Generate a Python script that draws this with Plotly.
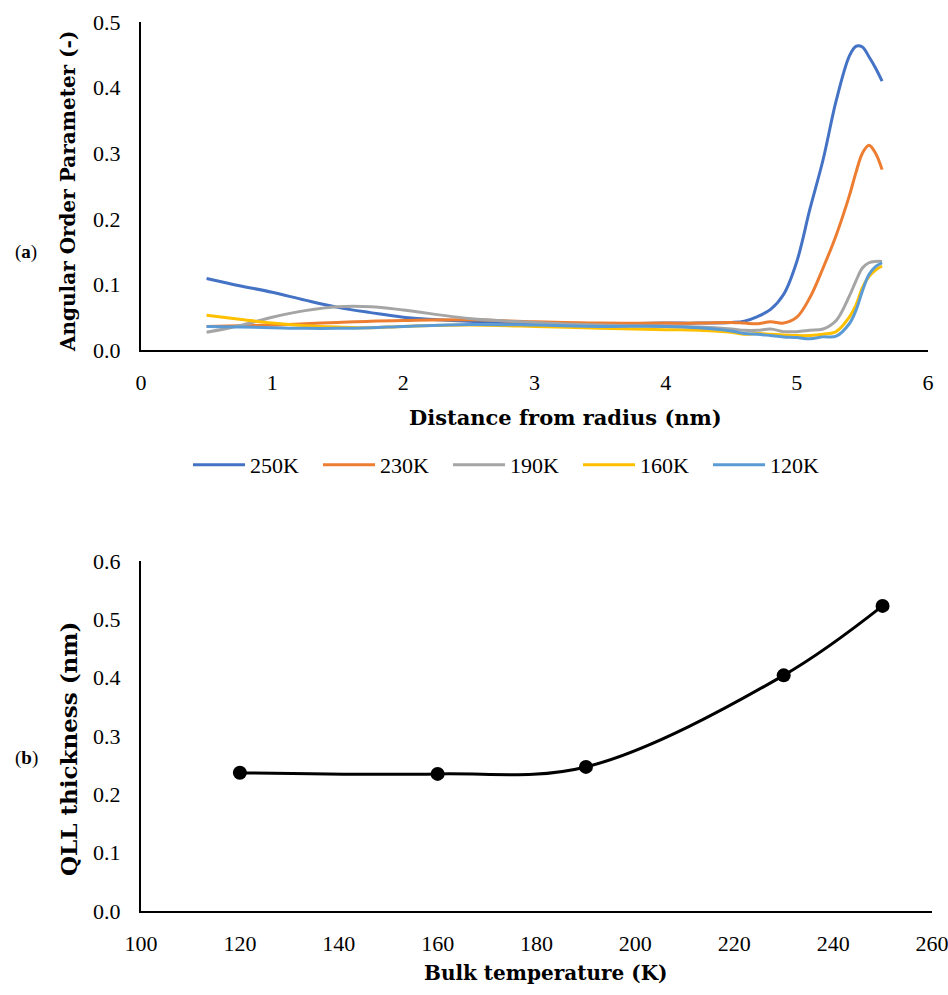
import plotly.graph_objects as go

# ---- Top chart data (a) ----
distance = [0.5, 0.75, 1.0, 1.25, 1.5, 1.75, 2.0, 2.5, 3.0, 3.5, 4.0, 4.25, 4.5, 4.6, 4.7,
            4.8, 4.9, 5.0, 5.1, 5.2, 5.3, 5.4, 5.45, 5.5, 5.55, 5.6, 5.65]
s250 = [0.109, 0.098, 0.088, 0.076, 0.065, 0.057, 0.050, 0.044, 0.041, 0.040, 0.041, 0.041, 0.042, 0.044, 0.051,
        0.062, 0.085, 0.135, 0.215, 0.290, 0.380, 0.448, 0.463, 0.462, 0.447, 0.430, 0.410]
s230 = [0.036, 0.037, 0.038, 0.040, 0.042, 0.044, 0.045, 0.046, 0.043, 0.041, 0.041, 0.041, 0.042, 0.041, 0.040,
        0.043, 0.041, 0.050, 0.080, 0.125, 0.175, 0.235, 0.270, 0.300, 0.312, 0.300, 0.275]
s190 = [0.027, 0.037, 0.050, 0.060, 0.066, 0.066, 0.061, 0.048, 0.042, 0.038, 0.036, 0.035, 0.032, 0.030, 0.030,
        0.032, 0.028, 0.028, 0.030, 0.032, 0.045, 0.082, 0.105, 0.125, 0.133, 0.135, 0.135]
s160 = [0.053, 0.047, 0.041, 0.037, 0.035, 0.034, 0.036, 0.038, 0.036, 0.033, 0.031, 0.030, 0.027, 0.024, 0.025,
        0.024, 0.023, 0.022, 0.022, 0.024, 0.028, 0.050, 0.068, 0.095, 0.112, 0.122, 0.128]
s120 = [0.036, 0.035, 0.034, 0.033, 0.033, 0.034, 0.036, 0.039, 0.038, 0.036, 0.036, 0.034, 0.029, 0.025, 0.024,
        0.022, 0.020, 0.019, 0.017, 0.020, 0.021, 0.040, 0.060, 0.090, 0.115, 0.127, 0.133]
series_names = ["250K", "230K", "190K", "160K", "120K"]
series_colors = ["#4472C4", "#ED7D31", "#A5A5A5", "#FFC000", "#5B9BD5"]
series_values = [s250, s230, s190, s160, s120]

# ---- Bottom chart data (b) ----
bulk_temp = [120, 160, 190, 230, 250]
qll_thickness = [0.237, 0.235, 0.247, 0.404, 0.523]

FONT = "Liberation Serif, Times New Roman, serif"
TITLE_FONT = "DejaVu Serif, serif"
W, H = 948, 995

fig = go.Figure()
for name, col, vals in zip(series_names, series_colors, series_values):
    fig.add_trace(go.Scatter(x=distance, y=vals, name=name, mode="lines",
                             line=dict(color=col, width=3, shape="spline", smoothing=1.0),
                             xaxis="x", yaxis="y"))

fig.add_trace(go.Scatter(x=bulk_temp, y=qll_thickness, mode="lines+markers", showlegend=False,
                         line=dict(color="black", width=3, shape="spline", smoothing=1.0),
                         marker=dict(color="black", size=14),
                         xaxis="x2", yaxis="y2"))

axis_common = dict(showgrid=False, zeroline=False, showline=True, linecolor="black", linewidth=2,
                   ticks="", tickfont=dict(family=FONT, size=22, color="black"), automargin=False,
                   ticklabeloverflow="allow")

def ann(text, x, y, size, angle=0, family=TITLE_FONT):
    return dict(text=text, x=x / W, y=1 - y / H, xref="paper", yref="paper", xanchor="center",
                yanchor="middle", textangle=angle, showarrow=False,
                font=dict(family=family, size=size, color="black"))

fig.update_layout(
    width=W, height=H,
    margin=dict(l=0, r=0, t=0, b=0),
    paper_bgcolor="white", plot_bgcolor="white",
    font=dict(family=FONT, color="black"),
    xaxis=dict(domain=[141 / W, 928 / W], range=[0, 6], dtick=1, anchor="y",
               ticklabelstandoff=12, **axis_common),
    yaxis=dict(domain=[1 - 350 / H, 1 - 22 / H], range=[0, 0.5], dtick=0.1, tickformat=".1f",
               anchor="x", ticklabelstandoff=14, **axis_common),
    xaxis2=dict(domain=[141 / W, 932 / W], range=[100, 260], dtick=20, anchor="y2",
                ticklabelstandoff=12, **axis_common),
    yaxis2=dict(domain=[1 - 911 / H, 1 - 561 / H], range=[0, 0.6], dtick=0.1, tickformat=".1f",
                anchor="x2", ticklabelstandoff=14, **axis_common),
    legend=dict(orientation="h", x=188 / W, y=1 - 465 / H, xanchor="left", yanchor="middle",
                font=dict(family=FONT, size=22, color="black"), itemwidth=52,
                entrywidth=63, entrywidthmode="pixels", bgcolor="rgba(0,0,0,0)"),
    annotations=[
        ann("<b>Angular Order Parameter (-)</b>", 68, 192, 20, -90),
        ann("<b>Distance from radius (nm)</b>", 565, 417, 21),
        ann("(<b>a</b>)", 26, 252, 19, family=FONT),
        ann("<b>QLL thickness (nm)</b>", 68, 749, 23, -90),
        ann("<b>Bulk temperature (K)</b>", 546, 973, 20),
        ann("(<b>b</b>)", 26, 758, 19, family=FONT),
    ],
)

fig.write_html("out.html")
